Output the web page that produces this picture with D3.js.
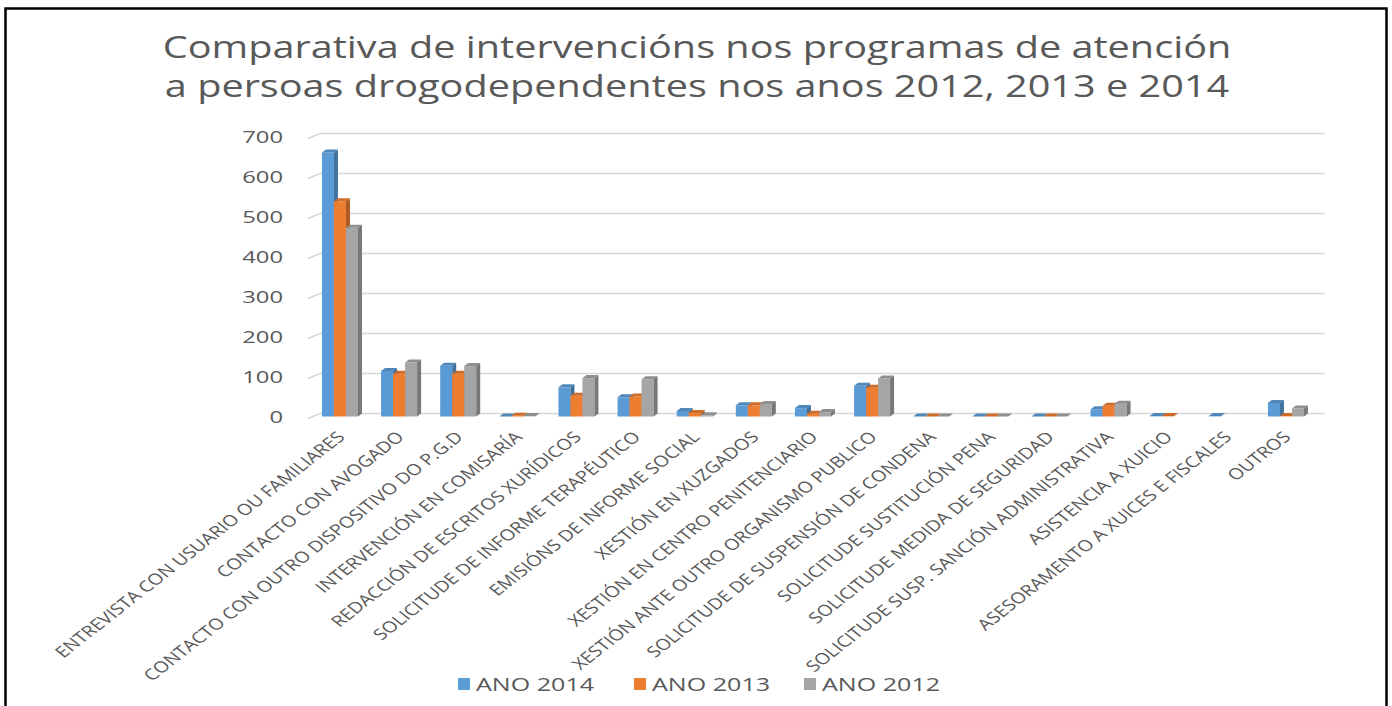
<!DOCTYPE html>
<html>
<head>
<meta charset="utf-8">
<script src="https://cdn.jsdelivr.net/npm/d3@7"></script>
<style>
  body { margin: 0; background: #fff; }
  text { font-family: "Open Sans", sans-serif; fill: #595959; }
</style>
</head>
<body>
<div id="graph"></div>
<script>
// data
let categories = [
  "ENTREVISTA CON USUARIO OU FAMILIARES",
  "CONTACTO CON AVOGADO",
  "CONTACTO CON OUTRO DISPOSITIVO DO P.G.D",
  "INTERVENCIÓN EN COMISARÍA",
  "REDACCIÓN DE ESCRITOS XURÍDICOS",
  "SOLICITUDE DE INFORME TERAPÉUTICO",
  "EMISIÓNS DE INFORME SOCIAL",
  "XESTIÓN EN XUZGADOS",
  "XESTIÓN EN CENTRO PENITENCIARIO",
  "XESTIÓN ANTE OUTRO ORGANISMO PUBLICO",
  "SOLICITUDE DE SUSPENSIÓN DE CONDENA",
  "SOLICITUDE SUSTITUCIÓN PENA",
  "SOLICITUDE MEDIDA DE SEGURIDAD",
  "SOLICITUDE SUSP. SANCIÓN ADMINISTRATIVA",
  "ASISTENCIA A XUICIO",
  "ASESORAMENTO A XUICES E FISCALES",
  "OUTROS"
];
let seriesNames = ["ANO 2014", "ANO 2013", "ANO 2012"];
let ano2014 = [660, 114, 127, 0, 73, 48, 14, 28, 21, 77, 0, 0, 0, 18, 1, 1, 34];
let ano2013 = [538, 107, 107, 2, 52, 50, 9, 28, 7, 72, 0, 0, 0, 27, 1, null, 1];
let ano2012 = [472, 135, 126, 1, 96, 93, 3, 31, 11, 95, 0, 0, 0, 32, null, null, 20];
let yTicks = [0, 100, 200, 300, 400, 500, 600, 700];
let titleLines = [
  "Comparativa de intervencións nos programas de atención",
  "a persoas drogodependentes nos anos 2012, 2013 e 2014"
];

let colors = ["#5b9bd5", "#ed7d31", "#a5a5a5"];
let sideColors = ["#41719c", "#ae5a21", "#787878"];
let topColors = ["#4f87ba", "#cf6b28", "#8f8f8f"];

// the whole picture is a bit wide, so text is stretched sideways
let stretch = 1.28;

let svg = d3.select("#graph").append("svg")
  .attr("width", 1392)
  .attr("height", 706);

// frame
svg.append("rect")
  .attr("x", 5.5).attr("y", 8.5)
  .attr("width", 1381).attr("height", 720)
  .attr("fill", "#fff")
  .attr("stroke", "#000")
  .attr("stroke-width", 2.5);

// title
svg.selectAll(".title")
  .data(titleLines)
  .enter()
  .append("text")
  .attr("class", "title")
  .attr("text-anchor", "middle")
  .attr("font-size", 30.5)
  .attr("transform", function (d, i) {
    return "translate(697," + (58 + i * 39) + ") scale(1.3,1)";
  })
  .text(function (d) { return d; });

let yScale = d3.scaleLinear()
  .domain([0, 700])
  .range([413.5, 133.5]);

let xScale = d3.scaleBand()
  .domain(categories)
  .range([310.4, 1315.5])
  .paddingInner(0.391)
  .paddingOuter(0.1955);

let xInner = d3.scaleBand()
  .domain(seriesNames)
  .range([0, xScale.bandwidth()]);

let gridLeft = 320, gridRight = 1325;
let dx = 4, dy = 3;

// gridlines on the back wall, with the small slanted side wall at left
svg.append("g")
  .selectAll("path")
  .data(yTicks)
  .enter()
  .append("path")
  .attr("d", function (d) {
    let y = yScale(d);
    return "M" + (gridLeft - 12) + "," + (y + 5) + "L" + gridLeft + "," + y + "H" + gridRight;
  })
  .attr("fill", "none")
  .attr("stroke", "#d6d6d6")
  .attr("stroke-width", 1.4);

// y labels
let yAxis = d3.axisLeft(yScale).tickValues(yTicks).tickSize(0).tickPadding(0);
let yg = svg.append("g")
  .attr("transform", "translate(283,4)")
  .call(yAxis);
yg.select(".domain").remove();
yg.selectAll("text")
  .attr("font-size", 17)
  .attr("font-family", "Open Sans")
  .attr("fill", "#595959")
  .attr("x", null)
  .attr("transform", "scale(1.4,1)");

// bars
let seriesData = [ano2014, ano2013, ano2012];
let bars = [];
seriesData.forEach(function (vals, s) {
  vals.forEach(function (v, i) {
    if (v !== null) bars.push({ cat: categories[i], s: s, v: v });
  });
});

let y0 = yScale(0);
let g = svg.append("g");
let barG = g.selectAll("g.bar")
  .data(bars)
  .enter()
  .append("g")
  .attr("class", "bar");

function bx(d) { return xScale(d.cat) + xInner(seriesNames[d.s]); }
let w = xInner.bandwidth();

barG.append("rect")
  .attr("x", function (d) { return bx(d); })
  .attr("y", function (d) { return yScale(d.v) + dy; })
  .attr("width", w)
  .attr("height", function (d) { return y0 - yScale(d.v); })
  .attr("fill", function (d) { return colors[d.s]; });

barG.append("path")
  .attr("d", function (d) {
    let x = bx(d), y = yScale(d.v);
    return "M" + x + "," + (y + dy) + "L" + (x + dx) + "," + y + "L" + (x + w + dx) + "," + y +
      "L" + (x + w) + "," + (y + dy) + "Z";
  })
  .attr("fill", function (d) { return topColors[d.s]; });

barG.append("path")
  .attr("d", function (d) {
    let x = bx(d), y = yScale(d.v);
    return "M" + (x + w) + "," + (y + dy) + "L" + (x + w + dx) + "," + y + "L" + (x + w + dx) + "," + y0 +
      "L" + (x + w) + "," + (y0 + dy) + "Z";
  })
  .attr("fill", function (d) { return sideColors[d.s]; });

// category labels
svg.append("g")
  .selectAll("text")
  .data(categories)
  .enter()
  .append("text")
  .attr("text-anchor", "end")
  .attr("font-size", 15.5)
  .attr("transform", function (d) {
    return "translate(" + (xScale(d) + xScale.bandwidth() / 2 + 6) + ",438) scale(" + stretch + ",1) rotate(-45)";
  })
  .text(function (d) { return d; });

// legend
let legendX = [458, 634, 804];
let lg = svg.append("g")
  .selectAll("g")
  .data(seriesNames)
  .enter()
  .append("g")
  .attr("transform", function (d, i) { return "translate(" + legendX[i] + ",684)"; });
lg.append("rect")
  .attr("x", 0).attr("y", -6)
  .attr("width", 12).attr("height", 12)
  .attr("fill", function (d, i) { return colors[i]; });
lg.append("text")
  .attr("font-size", 19)
  .attr("dy", "0.35em")
  .attr("transform", "translate(18,0) scale(" + 1.32 + ",1)")
  .text(function (d) { return d; });
</script>
</body>
</html>
